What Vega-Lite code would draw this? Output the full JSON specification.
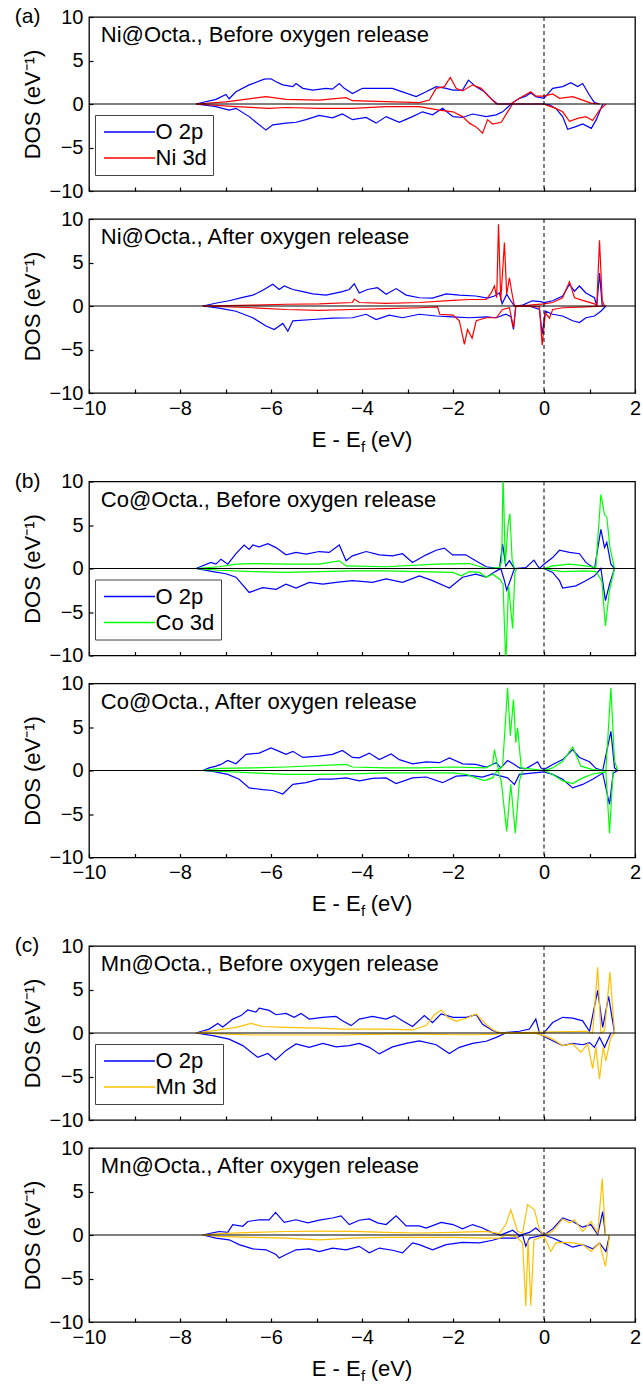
{
"$schema":"https://vega.github.io/schema/vega-lite/v6.json",
"background":"white",
"padding":{"left":14,"top":5,"right":9,"bottom":12},
"config":{"font":"Liberation Sans","view":{"stroke":"black","strokeWidth":1.3},
"axis":{"labelFont":"Liberation Sans","titleFont":"Liberation Sans","labelColor":"black","titleColor":"black","tickColor":"black","domain":false,"grid":false,"labelFontSize":20,"titleFontSize":22,"titleFontWeight":"normal","tickSize":-4,"tickWidth":1.2,"labelFlush":false,"labelOverlap":false},
"legend":{"orient":"none","legendX":6,"legendY":98,"title":null,"symbolType":"M-5,0H5","symbolSize":104,"symbolStrokeWidth":1.5,"labelFontSize":22,"labelFont":"Liberation Sans","labelColor":"black","strokeColor":"#444","fillColor":"white","padding":6,"rowPadding":4,"symbolOffset":17.5,"labelOffset":15},
"text":{"font":"Liberation Sans","color":"black"}},
"datasets":{
"a1":[
{"orb":"O 2p","spin":"up","E":-7.65,"DOS":0},{"orb":"O 2p","spin":"up","E":-7.21,"DOS":0.53},{"orb":"O 2p","spin":"up","E":-6.99,"DOS":1.1},{"orb":"O 2p","spin":"up","E":-6.92,"DOS":0.6},{"orb":"O 2p","spin":"up","E":-6.77,"DOS":1.4},{"orb":"O 2p","spin":"up","E":-6.48,"DOS":2.2},{"orb":"O 2p","spin":"up","E":-6.15,"DOS":2.85},{"orb":"O 2p","spin":"up","E":-6.0,"DOS":2.9},{"orb":"O 2p","spin":"up","E":-5.89,"DOS":2.55},{"orb":"O 2p","spin":"up","E":-5.74,"DOS":2.2},{"orb":"O 2p","spin":"up","E":-5.52,"DOS":2.0},{"orb":"O 2p","spin":"up","E":-5.45,"DOS":2.35},{"orb":"O 2p","spin":"up","E":-5.3,"DOS":1.8},{"orb":"O 2p","spin":"up","E":-5.08,"DOS":1.6},{"orb":"O 2p","spin":"up","E":-4.79,"DOS":1.8},{"orb":"O 2p","spin":"up","E":-4.65,"DOS":1.7},{"orb":"O 2p","spin":"up","E":-4.5,"DOS":2.35},{"orb":"O 2p","spin":"up","E":-4.39,"DOS":1.8},{"orb":"O 2p","spin":"up","E":-4.21,"DOS":1.2},{"orb":"O 2p","spin":"up","E":-3.99,"DOS":1.8},{"orb":"O 2p","spin":"up","E":-3.69,"DOS":1.8},{"orb":"O 2p","spin":"up","E":-3.33,"DOS":1.8},{"orb":"O 2p","spin":"up","E":-3.11,"DOS":1.4},{"orb":"O 2p","spin":"up","E":-2.81,"DOS":0.85},{"orb":"O 2p","spin":"up","E":-2.59,"DOS":1.4},{"orb":"O 2p","spin":"up","E":-2.37,"DOS":2.0},{"orb":"O 2p","spin":"up","E":-2.15,"DOS":1.8},{"orb":"O 2p","spin":"up","E":-2.0,"DOS":1.6},{"orb":"O 2p","spin":"up","E":-1.79,"DOS":1.6},{"orb":"O 2p","spin":"up","E":-1.66,"DOS":2.75},{"orb":"O 2p","spin":"up","E":-1.5,"DOS":2.0},{"orb":"O 2p","spin":"up","E":-1.31,"DOS":1.4},{"orb":"O 2p","spin":"up","E":-1.13,"DOS":0.45},{"orb":"O 2p","spin":"up","E":-1.02,"DOS":0},{"orb":"O 2p","spin":"up","E":-0.73,"DOS":0},{"orb":"O 2p","spin":"up","E":-0.54,"DOS":0.65},{"orb":"O 2p","spin":"up","E":-0.4,"DOS":0.9},{"orb":"O 2p","spin":"up","E":-0.29,"DOS":1.3},{"orb":"O 2p","spin":"up","E":-0.18,"DOS":0.85},{"orb":"O 2p","spin":"up","E":0.0,"DOS":0.65},{"orb":"O 2p","spin":"up","E":0.19,"DOS":1.8},{"orb":"O 2p","spin":"up","E":0.41,"DOS":2.0},{"orb":"O 2p","spin":"up","E":0.59,"DOS":2.45},{"orb":"O 2p","spin":"up","E":0.74,"DOS":2.0},{"orb":"O 2p","spin":"up","E":0.85,"DOS":2.35},{"orb":"O 2p","spin":"up","E":1.0,"DOS":1.0},{"orb":"O 2p","spin":"up","E":1.11,"DOS":0.15},{"orb":"O 2p","spin":"up","E":1.22,"DOS":0},
{"orb":"O 2p","spin":"dn","E":-7.65,"DOS":0},{"orb":"O 2p","spin":"dn","E":-7.21,"DOS":-0.3},{"orb":"O 2p","spin":"dn","E":-6.92,"DOS":-0.7},{"orb":"O 2p","spin":"dn","E":-6.77,"DOS":-0.5},{"orb":"O 2p","spin":"dn","E":-6.48,"DOS":-1.45},{"orb":"O 2p","spin":"dn","E":-6.33,"DOS":-2.1},{"orb":"O 2p","spin":"dn","E":-6.11,"DOS":-3.0},{"orb":"O 2p","spin":"dn","E":-5.96,"DOS":-2.4},{"orb":"O 2p","spin":"dn","E":-5.67,"DOS":-2.2},{"orb":"O 2p","spin":"dn","E":-5.45,"DOS":-2.1},{"orb":"O 2p","spin":"dn","E":-5.23,"DOS":-1.8},{"orb":"O 2p","spin":"dn","E":-4.94,"DOS":-1.3},{"orb":"O 2p","spin":"dn","E":-4.65,"DOS":-1.6},{"orb":"O 2p","spin":"dn","E":-4.43,"DOS":-1.15},{"orb":"O 2p","spin":"dn","E":-4.21,"DOS":-1.8},{"orb":"O 2p","spin":"dn","E":-3.91,"DOS":-1.55},{"orb":"O 2p","spin":"dn","E":-3.69,"DOS":-2.2},{"orb":"O 2p","spin":"dn","E":-3.47,"DOS":-1.45},{"orb":"O 2p","spin":"dn","E":-3.18,"DOS":-2.1},{"orb":"O 2p","spin":"dn","E":-2.89,"DOS":-1.45},{"orb":"O 2p","spin":"dn","E":-2.67,"DOS":-0.9},{"orb":"O 2p","spin":"dn","E":-2.45,"DOS":-1.25},{"orb":"O 2p","spin":"dn","E":-2.23,"DOS":-0.5},{"orb":"O 2p","spin":"dn","E":-2.0,"DOS":-1.45},{"orb":"O 2p","spin":"dn","E":-1.79,"DOS":-1.55},{"orb":"O 2p","spin":"dn","E":-1.57,"DOS":-1.15},{"orb":"O 2p","spin":"dn","E":-1.27,"DOS":-1.45},{"orb":"O 2p","spin":"dn","E":-1.05,"DOS":-1.25},{"orb":"O 2p","spin":"dn","E":-0.91,"DOS":-0.9},{"orb":"O 2p","spin":"dn","E":-0.72,"DOS":0},{"orb":"O 2p","spin":"dn","E":0.0,"DOS":0},{"orb":"O 2p","spin":"dn","E":0.12,"DOS":-0.1},{"orb":"O 2p","spin":"dn","E":0.26,"DOS":-0.5},{"orb":"O 2p","spin":"dn","E":0.41,"DOS":-1.45},{"orb":"O 2p","spin":"dn","E":0.52,"DOS":-2.9},{"orb":"O 2p","spin":"dn","E":0.7,"DOS":-2.6},{"orb":"O 2p","spin":"dn","E":0.85,"DOS":-2.3},{"orb":"O 2p","spin":"dn","E":1.04,"DOS":-2.8},{"orb":"O 2p","spin":"dn","E":1.15,"DOS":-1.8},{"orb":"O 2p","spin":"dn","E":1.29,"DOS":0},
{"orb":"Ni 3d","spin":"up","E":-7.65,"DOS":0},{"orb":"Ni 3d","spin":"up","E":-6.99,"DOS":0.25},{"orb":"Ni 3d","spin":"up","E":-6.4,"DOS":0.65},{"orb":"Ni 3d","spin":"up","E":-6.11,"DOS":0.85},{"orb":"Ni 3d","spin":"up","E":-5.67,"DOS":0.53},{"orb":"Ni 3d","spin":"up","E":-4.94,"DOS":0.45},{"orb":"Ni 3d","spin":"up","E":-4.35,"DOS":0.72},{"orb":"Ni 3d","spin":"up","E":-4.21,"DOS":0.38},{"orb":"Ni 3d","spin":"up","E":-3.47,"DOS":0.27},{"orb":"Ni 3d","spin":"up","E":-2.74,"DOS":0.15},{"orb":"Ni 3d","spin":"up","E":-2.52,"DOS":0.45},{"orb":"Ni 3d","spin":"up","E":-2.37,"DOS":1.8},{"orb":"Ni 3d","spin":"up","E":-2.19,"DOS":2.0},{"orb":"Ni 3d","spin":"up","E":-2.06,"DOS":3.05},{"orb":"Ni 3d","spin":"up","E":-1.93,"DOS":1.8},{"orb":"Ni 3d","spin":"up","E":-1.79,"DOS":1.5},{"orb":"Ni 3d","spin":"up","E":-1.57,"DOS":2.2},{"orb":"Ni 3d","spin":"up","E":-1.38,"DOS":1.8},{"orb":"Ni 3d","spin":"up","E":-1.24,"DOS":1.0},{"orb":"Ni 3d","spin":"up","E":-1.05,"DOS":0},{"orb":"Ni 3d","spin":"up","E":-0.73,"DOS":0},{"orb":"Ni 3d","spin":"up","E":-0.54,"DOS":0.65},{"orb":"Ni 3d","spin":"up","E":-0.29,"DOS":1.4},{"orb":"Ni 3d","spin":"up","E":-0.18,"DOS":0.9},{"orb":"Ni 3d","spin":"up","E":0.0,"DOS":0.9},{"orb":"Ni 3d","spin":"up","E":0.19,"DOS":1.15},{"orb":"Ni 3d","spin":"up","E":0.34,"DOS":0.65},{"orb":"Ni 3d","spin":"up","E":0.63,"DOS":0.85},{"orb":"Ni 3d","spin":"up","E":0.85,"DOS":0.45},{"orb":"Ni 3d","spin":"up","E":1.03,"DOS":0.1},{"orb":"Ni 3d","spin":"up","E":1.22,"DOS":0},
{"orb":"Ni 3d","spin":"dn","E":-7.65,"DOS":0},{"orb":"Ni 3d","spin":"dn","E":-6.77,"DOS":-0.3},{"orb":"Ni 3d","spin":"dn","E":-6.04,"DOS":-0.5},{"orb":"Ni 3d","spin":"dn","E":-5.67,"DOS":-0.4},{"orb":"Ni 3d","spin":"dn","E":-4.94,"DOS":-0.5},{"orb":"Ni 3d","spin":"dn","E":-4.21,"DOS":-0.5},{"orb":"Ni 3d","spin":"dn","E":-3.47,"DOS":-0.3},{"orb":"Ni 3d","spin":"dn","E":-2.74,"DOS":-0.3},{"orb":"Ni 3d","spin":"dn","E":-2.3,"DOS":-0.7},{"orb":"Ni 3d","spin":"dn","E":-2.0,"DOS":-0.9},{"orb":"Ni 3d","spin":"dn","E":-1.79,"DOS":-1.45},{"orb":"Ni 3d","spin":"dn","E":-1.64,"DOS":-2.2},{"orb":"Ni 3d","spin":"dn","E":-1.5,"DOS":-2.6},{"orb":"Ni 3d","spin":"dn","E":-1.35,"DOS":-3.35},{"orb":"Ni 3d","spin":"dn","E":-1.24,"DOS":-1.8},{"orb":"Ni 3d","spin":"dn","E":-1.13,"DOS":-2.3},{"orb":"Ni 3d","spin":"dn","E":-0.94,"DOS":-2.1},{"orb":"Ni 3d","spin":"dn","E":-0.8,"DOS":-0.9},{"orb":"Ni 3d","spin":"dn","E":-0.69,"DOS":0},{"orb":"Ni 3d","spin":"dn","E":0.0,"DOS":0},{"orb":"Ni 3d","spin":"dn","E":0.04,"DOS":-0.1},{"orb":"Ni 3d","spin":"dn","E":0.26,"DOS":-0.5},{"orb":"Ni 3d","spin":"dn","E":0.41,"DOS":-0.9},{"orb":"Ni 3d","spin":"dn","E":0.56,"DOS":-2.0},{"orb":"Ni 3d","spin":"dn","E":0.74,"DOS":-1.65},{"orb":"Ni 3d","spin":"dn","E":0.92,"DOS":-1.45},{"orb":"Ni 3d","spin":"dn","E":1.07,"DOS":-1.9},{"orb":"Ni 3d","spin":"dn","E":1.22,"DOS":-0.7},{"orb":"Ni 3d","spin":"dn","E":1.36,"DOS":0}
],
"a2":[
{"orb":"O 2p","spin":"up","E":-7.5,"DOS":0},{"orb":"O 2p","spin":"up","E":-7.14,"DOS":0.4},{"orb":"O 2p","spin":"up","E":-6.92,"DOS":0.6},{"orb":"O 2p","spin":"up","E":-6.62,"DOS":1.0},{"orb":"O 2p","spin":"up","E":-6.4,"DOS":1.25},{"orb":"O 2p","spin":"up","E":-6.18,"DOS":1.8},{"orb":"O 2p","spin":"up","E":-5.96,"DOS":2.5},{"orb":"O 2p","spin":"up","E":-5.82,"DOS":1.9},{"orb":"O 2p","spin":"up","E":-5.71,"DOS":2.3},{"orb":"O 2p","spin":"up","E":-5.52,"DOS":1.9},{"orb":"O 2p","spin":"up","E":-5.3,"DOS":1.65},{"orb":"O 2p","spin":"up","E":-5.08,"DOS":1.4},{"orb":"O 2p","spin":"up","E":-4.79,"DOS":1.25},{"orb":"O 2p","spin":"up","E":-4.43,"DOS":1.65},{"orb":"O 2p","spin":"up","E":-4.28,"DOS":1.9},{"orb":"O 2p","spin":"up","E":-4.17,"DOS":2.55},{"orb":"O 2p","spin":"up","E":-4.06,"DOS":1.5},{"orb":"O 2p","spin":"up","E":-3.88,"DOS":1.9},{"orb":"O 2p","spin":"up","E":-3.66,"DOS":2.1},{"orb":"O 2p","spin":"up","E":-3.47,"DOS":1.35},{"orb":"O 2p","spin":"up","E":-3.25,"DOS":2.0},{"orb":"O 2p","spin":"up","E":-3.03,"DOS":1.25},{"orb":"O 2p","spin":"up","E":-2.74,"DOS":0.95},{"orb":"O 2p","spin":"up","E":-2.45,"DOS":0.9},{"orb":"O 2p","spin":"up","E":-2.15,"DOS":1.4},{"orb":"O 2p","spin":"up","E":-1.86,"DOS":1.25},{"orb":"O 2p","spin":"up","E":-1.5,"DOS":1.15},{"orb":"O 2p","spin":"up","E":-1.24,"DOS":0.9},{"orb":"O 2p","spin":"up","E":-1.09,"DOS":1.15},{"orb":"O 2p","spin":"up","E":-0.98,"DOS":1.5},{"orb":"O 2p","spin":"up","E":-0.92,"DOS":0.25},{"orb":"O 2p","spin":"up","E":-0.82,"DOS":1.35},{"orb":"O 2p","spin":"up","E":-0.73,"DOS":0.6},{"orb":"O 2p","spin":"up","E":-0.65,"DOS":0},{"orb":"O 2p","spin":"up","E":-0.47,"DOS":0.1},{"orb":"O 2p","spin":"up","E":-0.26,"DOS":0.6},{"orb":"O 2p","spin":"up","E":-0.07,"DOS":0.5},{"orb":"O 2p","spin":"up","E":0.0,"DOS":0.4},{"orb":"O 2p","spin":"up","E":0.19,"DOS":0.6},{"orb":"O 2p","spin":"up","E":0.41,"DOS":1.15},{"orb":"O 2p","spin":"up","E":0.56,"DOS":2.5},{"orb":"O 2p","spin":"up","E":0.67,"DOS":1.7},{"orb":"O 2p","spin":"up","E":0.78,"DOS":2.3},{"orb":"O 2p","spin":"up","E":0.92,"DOS":1.5},{"orb":"O 2p","spin":"up","E":1.11,"DOS":0.95},{"orb":"O 2p","spin":"up","E":1.16,"DOS":0},{"orb":"O 2p","spin":"up","E":1.22,"DOS":3.8},{"orb":"O 2p","spin":"up","E":1.28,"DOS":0},
{"orb":"O 2p","spin":"dn","E":-7.5,"DOS":0},{"orb":"O 2p","spin":"dn","E":-7.14,"DOS":-0.25},{"orb":"O 2p","spin":"dn","E":-6.77,"DOS":-0.6},{"orb":"O 2p","spin":"dn","E":-6.4,"DOS":-1.35},{"orb":"O 2p","spin":"dn","E":-6.11,"DOS":-2.3},{"orb":"O 2p","spin":"dn","E":-5.93,"DOS":-2.7},{"orb":"O 2p","spin":"dn","E":-5.74,"DOS":-2.0},{"orb":"O 2p","spin":"dn","E":-5.63,"DOS":-2.9},{"orb":"O 2p","spin":"dn","E":-5.52,"DOS":-1.7},{"orb":"O 2p","spin":"dn","E":-5.08,"DOS":-1.55},{"orb":"O 2p","spin":"dn","E":-4.65,"DOS":-1.4},{"orb":"O 2p","spin":"dn","E":-4.21,"DOS":-1.35},{"orb":"O 2p","spin":"dn","E":-3.91,"DOS":-0.95},{"orb":"O 2p","spin":"dn","E":-3.69,"DOS":-1.55},{"orb":"O 2p","spin":"dn","E":-3.4,"DOS":-1.05},{"orb":"O 2p","spin":"dn","E":-3.11,"DOS":-1.35},{"orb":"O 2p","spin":"dn","E":-2.74,"DOS":-0.95},{"orb":"O 2p","spin":"dn","E":-2.37,"DOS":-1.15},{"orb":"O 2p","spin":"dn","E":-2.01,"DOS":-1.25},{"orb":"O 2p","spin":"dn","E":-1.64,"DOS":-1.35},{"orb":"O 2p","spin":"dn","E":-1.27,"DOS":-1.25},{"orb":"O 2p","spin":"dn","E":-1.05,"DOS":-1.35},{"orb":"O 2p","spin":"dn","E":-0.84,"DOS":-0.95},{"orb":"O 2p","spin":"dn","E":-0.73,"DOS":-1.2},{"orb":"O 2p","spin":"dn","E":-0.67,"DOS":-2.7},{"orb":"O 2p","spin":"dn","E":-0.62,"DOS":0},{"orb":"O 2p","spin":"dn","E":-0.32,"DOS":0},{"orb":"O 2p","spin":"dn","E":-0.1,"DOS":-0.4},{"orb":"O 2p","spin":"dn","E":-0.04,"DOS":-3.25},{"orb":"O 2p","spin":"dn","E":0.03,"DOS":-0.6},{"orb":"O 2p","spin":"dn","E":0.19,"DOS":-0.95},{"orb":"O 2p","spin":"dn","E":0.41,"DOS":-1.15},{"orb":"O 2p","spin":"dn","E":0.63,"DOS":-1.7},{"orb":"O 2p","spin":"dn","E":0.78,"DOS":-1.9},{"orb":"O 2p","spin":"dn","E":0.92,"DOS":-1.35},{"orb":"O 2p","spin":"dn","E":1.11,"DOS":-1.15},{"orb":"O 2p","spin":"dn","E":1.25,"DOS":-0.6},{"orb":"O 2p","spin":"dn","E":1.36,"DOS":0},
{"orb":"Ni 3d","spin":"up","E":-7.5,"DOS":0},{"orb":"Ni 3d","spin":"up","E":-6.4,"DOS":0.1},{"orb":"Ni 3d","spin":"up","E":-5.67,"DOS":0.2},{"orb":"Ni 3d","spin":"up","E":-4.94,"DOS":0.25},{"orb":"Ni 3d","spin":"up","E":-4.21,"DOS":0.4},{"orb":"Ni 3d","spin":"up","E":-4.17,"DOS":0.8},{"orb":"Ni 3d","spin":"up","E":-4.06,"DOS":0.4},{"orb":"Ni 3d","spin":"up","E":-3.47,"DOS":0.3},{"orb":"Ni 3d","spin":"up","E":-2.74,"DOS":0.4},{"orb":"Ni 3d","spin":"up","E":-2.0,"DOS":0.65},{"orb":"Ni 3d","spin":"up","E":-1.64,"DOS":0.75},{"orb":"Ni 3d","spin":"up","E":-1.27,"DOS":0.75},{"orb":"Ni 3d","spin":"up","E":-1.16,"DOS":1.5},{"orb":"Ni 3d","spin":"up","E":-1.09,"DOS":2.3},{"orb":"Ni 3d","spin":"up","E":-1.04,"DOS":0.95},{"orb":"Ni 3d","spin":"up","E":-1.0,"DOS":9.4},{"orb":"Ni 3d","spin":"up","E":-0.95,"DOS":0.6},{"orb":"Ni 3d","spin":"up","E":-0.87,"DOS":7.3},{"orb":"Ni 3d","spin":"up","E":-0.82,"DOS":1.35},{"orb":"Ni 3d","spin":"up","E":-0.76,"DOS":3.25},{"orb":"Ni 3d","spin":"up","E":-0.7,"DOS":1.35},{"orb":"Ni 3d","spin":"up","E":-0.65,"DOS":0},{"orb":"Ni 3d","spin":"up","E":-0.32,"DOS":0.1},{"orb":"Ni 3d","spin":"up","E":0.0,"DOS":0.25},{"orb":"Ni 3d","spin":"up","E":0.19,"DOS":0.4},{"orb":"Ni 3d","spin":"up","E":0.41,"DOS":0.95},{"orb":"Ni 3d","spin":"up","E":0.56,"DOS":2.8},{"orb":"Ni 3d","spin":"up","E":0.67,"DOS":0.95},{"orb":"Ni 3d","spin":"up","E":0.85,"DOS":0.65},{"orb":"Ni 3d","spin":"up","E":1.11,"DOS":0.25},{"orb":"Ni 3d","spin":"up","E":1.16,"DOS":0},{"orb":"Ni 3d","spin":"up","E":1.22,"DOS":7.55},{"orb":"Ni 3d","spin":"up","E":1.28,"DOS":0.6},{"orb":"Ni 3d","spin":"up","E":1.33,"DOS":0},
{"orb":"Ni 3d","spin":"dn","E":-7.5,"DOS":0},{"orb":"Ni 3d","spin":"dn","E":-6.4,"DOS":-0.2},{"orb":"Ni 3d","spin":"dn","E":-5.67,"DOS":-0.4},{"orb":"Ni 3d","spin":"dn","E":-4.94,"DOS":-0.5},{"orb":"Ni 3d","spin":"dn","E":-4.21,"DOS":-0.4},{"orb":"Ni 3d","spin":"dn","E":-3.47,"DOS":-0.3},{"orb":"Ni 3d","spin":"dn","E":-2.74,"DOS":-0.2},{"orb":"Ni 3d","spin":"dn","E":-2.34,"DOS":-0.1},{"orb":"Ni 3d","spin":"dn","E":-2.29,"DOS":-0.95},{"orb":"Ni 3d","spin":"dn","E":-2.0,"DOS":-1.05},{"orb":"Ni 3d","spin":"dn","E":-1.86,"DOS":-1.7},{"orb":"Ni 3d","spin":"dn","E":-1.75,"DOS":-4.4},{"orb":"Ni 3d","spin":"dn","E":-1.68,"DOS":-2.7},{"orb":"Ni 3d","spin":"dn","E":-1.58,"DOS":-3.7},{"orb":"Ni 3d","spin":"dn","E":-1.49,"DOS":-1.7},{"orb":"Ni 3d","spin":"dn","E":-1.27,"DOS":-1.35},{"orb":"Ni 3d","spin":"dn","E":-1.05,"DOS":-1.35},{"orb":"Ni 3d","spin":"dn","E":-0.91,"DOS":-0.4},{"orb":"Ni 3d","spin":"dn","E":-0.76,"DOS":-0.2},{"orb":"Ni 3d","spin":"dn","E":-0.67,"DOS":-2.5},{"orb":"Ni 3d","spin":"dn","E":-0.62,"DOS":0},{"orb":"Ni 3d","spin":"dn","E":-0.1,"DOS":-0.1},{"orb":"Ni 3d","spin":"dn","E":-0.04,"DOS":-4.5},{"orb":"Ni 3d","spin":"dn","E":0.03,"DOS":-0.8},{"orb":"Ni 3d","spin":"dn","E":0.12,"DOS":-1.4},{"orb":"Ni 3d","spin":"dn","E":0.19,"DOS":-0.4},{"orb":"Ni 3d","spin":"dn","E":0.41,"DOS":-0.2},{"orb":"Ni 3d","spin":"dn","E":0.92,"DOS":-0.1},{"orb":"Ni 3d","spin":"dn","E":1.36,"DOS":0}
],
"b1":[
{"orb":"O 2p","spin":"up","E":-7.65,"DOS":0},{"orb":"O 2p","spin":"up","E":-7.32,"DOS":0.7},{"orb":"O 2p","spin":"up","E":-7.21,"DOS":0.5},{"orb":"O 2p","spin":"up","E":-7.1,"DOS":1.07},{"orb":"O 2p","spin":"up","E":-6.95,"DOS":0.5},{"orb":"O 2p","spin":"up","E":-6.77,"DOS":1.7},{"orb":"O 2p","spin":"up","E":-6.59,"DOS":2.7},{"orb":"O 2p","spin":"up","E":-6.48,"DOS":2.2},{"orb":"O 2p","spin":"up","E":-6.4,"DOS":2.7},{"orb":"O 2p","spin":"up","E":-6.26,"DOS":2.5},{"orb":"O 2p","spin":"up","E":-6.07,"DOS":2.85},{"orb":"O 2p","spin":"up","E":-5.89,"DOS":2.4},{"orb":"O 2p","spin":"up","E":-5.67,"DOS":1.57},{"orb":"O 2p","spin":"up","E":-5.45,"DOS":1.85},{"orb":"O 2p","spin":"up","E":-5.23,"DOS":1.65},{"orb":"O 2p","spin":"up","E":-4.94,"DOS":1.95},{"orb":"O 2p","spin":"up","E":-4.72,"DOS":1.85},{"orb":"O 2p","spin":"up","E":-4.5,"DOS":2.7},{"orb":"O 2p","spin":"up","E":-4.35,"DOS":0.88},{"orb":"O 2p","spin":"up","E":-4.21,"DOS":1.45},{"orb":"O 2p","spin":"up","E":-3.91,"DOS":1.95},{"orb":"O 2p","spin":"up","E":-3.62,"DOS":1.57},{"orb":"O 2p","spin":"up","E":-3.33,"DOS":1.45},{"orb":"O 2p","spin":"up","E":-3.11,"DOS":1.7},{"orb":"O 2p","spin":"up","E":-2.89,"DOS":0.7},{"orb":"O 2p","spin":"up","E":-2.59,"DOS":1.57},{"orb":"O 2p","spin":"up","E":-2.37,"DOS":2.1},{"orb":"O 2p","spin":"up","E":-2.19,"DOS":2.35},{"orb":"O 2p","spin":"up","E":-2.01,"DOS":1.57},{"orb":"O 2p","spin":"up","E":-1.72,"DOS":1.57},{"orb":"O 2p","spin":"up","E":-1.5,"DOS":0.88},{"orb":"O 2p","spin":"up","E":-1.27,"DOS":0.2},{"orb":"O 2p","spin":"up","E":-0.98,"DOS":0},{"orb":"O 2p","spin":"up","E":-0.91,"DOS":2.8},{"orb":"O 2p","spin":"up","E":-0.84,"DOS":0.3},{"orb":"O 2p","spin":"up","E":-0.76,"DOS":0.9},{"orb":"O 2p","spin":"up","E":-0.65,"DOS":0},{"orb":"O 2p","spin":"up","E":-0.4,"DOS":0.1},{"orb":"O 2p","spin":"up","E":-0.22,"DOS":0.96},{"orb":"O 2p","spin":"up","E":-0.1,"DOS":0},{"orb":"O 2p","spin":"up","E":0.0,"DOS":0.5},{"orb":"O 2p","spin":"up","E":0.19,"DOS":1.26},{"orb":"O 2p","spin":"up","E":0.34,"DOS":2.1},{"orb":"O 2p","spin":"up","E":0.56,"DOS":1.85},{"orb":"O 2p","spin":"up","E":0.78,"DOS":1.7},{"orb":"O 2p","spin":"up","E":0.92,"DOS":0.7},{"orb":"O 2p","spin":"up","E":1.11,"DOS":0},{"orb":"O 2p","spin":"up","E":1.25,"DOS":4.5},{"orb":"O 2p","spin":"up","E":1.33,"DOS":2.4},{"orb":"O 2p","spin":"up","E":1.38,"DOS":3.0},{"orb":"O 2p","spin":"up","E":1.47,"DOS":0.5},{"orb":"O 2p","spin":"up","E":1.55,"DOS":0},
{"orb":"O 2p","spin":"dn","E":-7.65,"DOS":0},{"orb":"O 2p","spin":"dn","E":-7.28,"DOS":-0.35},{"orb":"O 2p","spin":"dn","E":-6.99,"DOS":-0.6},{"orb":"O 2p","spin":"dn","E":-6.77,"DOS":-1.0},{"orb":"O 2p","spin":"dn","E":-6.48,"DOS":-2.75},{"orb":"O 2p","spin":"dn","E":-6.18,"DOS":-2.2},{"orb":"O 2p","spin":"dn","E":-5.89,"DOS":-2.4},{"orb":"O 2p","spin":"dn","E":-5.67,"DOS":-1.8},{"orb":"O 2p","spin":"dn","E":-5.45,"DOS":-2.25},{"orb":"O 2p","spin":"dn","E":-5.16,"DOS":-1.6},{"orb":"O 2p","spin":"dn","E":-4.86,"DOS":-1.8},{"orb":"O 2p","spin":"dn","E":-4.57,"DOS":-1.6},{"orb":"O 2p","spin":"dn","E":-4.21,"DOS":-1.4},{"orb":"O 2p","spin":"dn","E":-3.77,"DOS":-1.6},{"orb":"O 2p","spin":"dn","E":-3.47,"DOS":-1.2},{"orb":"O 2p","spin":"dn","E":-3.11,"DOS":-1.6},{"orb":"O 2p","spin":"dn","E":-2.74,"DOS":-0.85},{"orb":"O 2p","spin":"dn","E":-2.45,"DOS":-1.4},{"orb":"O 2p","spin":"dn","E":-2.08,"DOS":-2.25},{"orb":"O 2p","spin":"dn","E":-1.79,"DOS":-1.0},{"orb":"O 2p","spin":"dn","E":-1.5,"DOS":-0.65},{"orb":"O 2p","spin":"dn","E":-1.27,"DOS":-1.0},{"orb":"O 2p","spin":"dn","E":-1.05,"DOS":-0.3},{"orb":"O 2p","spin":"dn","E":-0.95,"DOS":0},{"orb":"O 2p","spin":"dn","E":-0.87,"DOS":-1.4},{"orb":"O 2p","spin":"dn","E":-0.82,"DOS":-2.5},{"orb":"O 2p","spin":"dn","E":-0.73,"DOS":-1.2},{"orb":"O 2p","spin":"dn","E":-0.65,"DOS":0},{"orb":"O 2p","spin":"dn","E":0.0,"DOS":0},{"orb":"O 2p","spin":"dn","E":0.19,"DOS":-0.45},{"orb":"O 2p","spin":"dn","E":0.34,"DOS":-1.4},{"orb":"O 2p","spin":"dn","E":0.41,"DOS":-2.25},{"orb":"O 2p","spin":"dn","E":0.7,"DOS":-2.0},{"orb":"O 2p","spin":"dn","E":0.92,"DOS":-1.4},{"orb":"O 2p","spin":"dn","E":1.11,"DOS":-0.85},{"orb":"O 2p","spin":"dn","E":1.25,"DOS":0},{"orb":"O 2p","spin":"dn","E":1.35,"DOS":-3.7},{"orb":"O 2p","spin":"dn","E":1.44,"DOS":-1.8},{"orb":"O 2p","spin":"dn","E":1.55,"DOS":0},
{"orb":"Co 3d","spin":"up","E":-7.65,"DOS":0},{"orb":"Co 3d","spin":"up","E":-7.14,"DOS":0.2},{"orb":"Co 3d","spin":"up","E":-6.77,"DOS":0.5},{"orb":"Co 3d","spin":"up","E":-6.4,"DOS":0.57},{"orb":"Co 3d","spin":"up","E":-5.67,"DOS":0.5},{"orb":"Co 3d","spin":"up","E":-4.94,"DOS":0.5},{"orb":"Co 3d","spin":"up","E":-4.5,"DOS":0.88},{"orb":"Co 3d","spin":"up","E":-4.35,"DOS":0.3},{"orb":"Co 3d","spin":"up","E":-3.47,"DOS":0.2},{"orb":"Co 3d","spin":"up","E":-2.37,"DOS":0.5},{"orb":"Co 3d","spin":"up","E":-1.64,"DOS":0.57},{"orb":"Co 3d","spin":"up","E":-1.27,"DOS":0},{"orb":"Co 3d","spin":"up","E":-0.98,"DOS":0.1},{"orb":"Co 3d","spin":"up","E":-0.93,"DOS":0.8},{"orb":"Co 3d","spin":"up","E":-0.9,"DOS":11},{"orb":"Co 3d","spin":"up","E":-0.85,"DOS":0.5},{"orb":"Co 3d","spin":"up","E":-0.79,"DOS":5.0},{"orb":"Co 3d","spin":"up","E":-0.75,"DOS":6.3},{"orb":"Co 3d","spin":"up","E":-0.7,"DOS":1.0},{"orb":"Co 3d","spin":"up","E":-0.65,"DOS":0},{"orb":"Co 3d","spin":"up","E":0.0,"DOS":0},{"orb":"Co 3d","spin":"up","E":0.19,"DOS":0.3},{"orb":"Co 3d","spin":"up","E":0.56,"DOS":0.5},{"orb":"Co 3d","spin":"up","E":0.92,"DOS":0.3},{"orb":"Co 3d","spin":"up","E":1.14,"DOS":0.1},{"orb":"Co 3d","spin":"up","E":1.25,"DOS":8.5},{"orb":"Co 3d","spin":"up","E":1.33,"DOS":6.2},{"orb":"Co 3d","spin":"up","E":1.38,"DOS":5.9},{"orb":"Co 3d","spin":"up","E":1.45,"DOS":2.4},{"orb":"Co 3d","spin":"up","E":1.55,"DOS":0},
{"orb":"Co 3d","spin":"dn","E":-7.65,"DOS":0},{"orb":"Co 3d","spin":"dn","E":-7.14,"DOS":-0.2},{"orb":"Co 3d","spin":"dn","E":-6.4,"DOS":-0.35},{"orb":"Co 3d","spin":"dn","E":-5.67,"DOS":-0.45},{"orb":"Co 3d","spin":"dn","E":-4.94,"DOS":-0.35},{"orb":"Co 3d","spin":"dn","E":-4.21,"DOS":-0.27},{"orb":"Co 3d","spin":"dn","E":-3.47,"DOS":-0.27},{"orb":"Co 3d","spin":"dn","E":-2.74,"DOS":-0.35},{"orb":"Co 3d","spin":"dn","E":-2.0,"DOS":-0.45},{"orb":"Co 3d","spin":"dn","E":-1.82,"DOS":-0.85},{"orb":"Co 3d","spin":"dn","E":-1.64,"DOS":-0.35},{"orb":"Co 3d","spin":"dn","E":-1.42,"DOS":-0.45},{"orb":"Co 3d","spin":"dn","E":-1.27,"DOS":-1.0},{"orb":"Co 3d","spin":"dn","E":-1.13,"DOS":-0.65},{"orb":"Co 3d","spin":"dn","E":-0.98,"DOS":-1.2},{"orb":"Co 3d","spin":"dn","E":-0.9,"DOS":-1.8},{"orb":"Co 3d","spin":"dn","E":-0.84,"DOS":-11},{"orb":"Co 3d","spin":"dn","E":-0.78,"DOS":-2.0},{"orb":"Co 3d","spin":"dn","E":-0.69,"DOS":-6.9},{"orb":"Co 3d","spin":"dn","E":-0.64,"DOS":-0.5},{"orb":"Co 3d","spin":"dn","E":-0.6,"DOS":0},{"orb":"Co 3d","spin":"dn","E":0.0,"DOS":0},{"orb":"Co 3d","spin":"dn","E":0.19,"DOS":-0.2},{"orb":"Co 3d","spin":"dn","E":0.41,"DOS":-0.35},{"orb":"Co 3d","spin":"dn","E":0.92,"DOS":-0.27},{"orb":"Co 3d","spin":"dn","E":1.14,"DOS":-0.35},{"orb":"Co 3d","spin":"dn","E":1.27,"DOS":-1.4},{"orb":"Co 3d","spin":"dn","E":1.35,"DOS":-6.6},{"orb":"Co 3d","spin":"dn","E":1.44,"DOS":-2.5},{"orb":"Co 3d","spin":"dn","E":1.55,"DOS":0}
],
"b2":[
{"orb":"O 2p","spin":"up","E":-7.5,"DOS":0},{"orb":"O 2p","spin":"up","E":-7.36,"DOS":0.3},{"orb":"O 2p","spin":"up","E":-7.21,"DOS":0.5},{"orb":"O 2p","spin":"up","E":-7.1,"DOS":0.7},{"orb":"O 2p","spin":"up","E":-6.95,"DOS":1.15},{"orb":"O 2p","spin":"up","E":-6.77,"DOS":0.77},{"orb":"O 2p","spin":"up","E":-6.55,"DOS":1.85},{"orb":"O 2p","spin":"up","E":-6.26,"DOS":2.0},{"orb":"O 2p","spin":"up","E":-6.0,"DOS":2.6},{"orb":"O 2p","spin":"up","E":-5.82,"DOS":2.2},{"orb":"O 2p","spin":"up","E":-5.67,"DOS":1.85},{"orb":"O 2p","spin":"up","E":-5.52,"DOS":2.2},{"orb":"O 2p","spin":"up","E":-5.3,"DOS":1.5},{"orb":"O 2p","spin":"up","E":-4.94,"DOS":1.65},{"orb":"O 2p","spin":"up","E":-4.65,"DOS":1.85},{"orb":"O 2p","spin":"up","E":-4.43,"DOS":2.3},{"orb":"O 2p","spin":"up","E":-4.21,"DOS":1.5},{"orb":"O 2p","spin":"up","E":-4.06,"DOS":1.45},{"orb":"O 2p","spin":"up","E":-3.84,"DOS":2.0},{"orb":"O 2p","spin":"up","E":-3.62,"DOS":1.25},{"orb":"O 2p","spin":"up","E":-3.36,"DOS":1.9},{"orb":"O 2p","spin":"up","E":-3.18,"DOS":1.25},{"orb":"O 2p","spin":"up","E":-2.89,"DOS":0.77},{"orb":"O 2p","spin":"up","E":-2.59,"DOS":1.0},{"orb":"O 2p","spin":"up","E":-2.3,"DOS":0.9},{"orb":"O 2p","spin":"up","E":-2.08,"DOS":1.45},{"orb":"O 2p","spin":"up","E":-1.79,"DOS":0.77},{"orb":"O 2p","spin":"up","E":-1.5,"DOS":0.7},{"orb":"O 2p","spin":"up","E":-1.27,"DOS":0.38},{"orb":"O 2p","spin":"up","E":-1.05,"DOS":0.9},{"orb":"O 2p","spin":"up","E":-0.95,"DOS":0.3},{"orb":"O 2p","spin":"up","E":-0.8,"DOS":1.15},{"orb":"O 2p","spin":"up","E":-0.65,"DOS":0.7},{"orb":"O 2p","spin":"up","E":-0.54,"DOS":0.3},{"orb":"O 2p","spin":"up","E":-0.4,"DOS":0.2},{"orb":"O 2p","spin":"up","E":-0.14,"DOS":1.0},{"orb":"O 2p","spin":"up","E":-0.07,"DOS":0.3},{"orb":"O 2p","spin":"up","E":0.0,"DOS":0.1},{"orb":"O 2p","spin":"up","E":0.19,"DOS":0.7},{"orb":"O 2p","spin":"up","E":0.41,"DOS":1.25},{"orb":"O 2p","spin":"up","E":0.63,"DOS":2.4},{"orb":"O 2p","spin":"up","E":0.78,"DOS":1.5},{"orb":"O 2p","spin":"up","E":1.0,"DOS":1.0},{"orb":"O 2p","spin":"up","E":1.14,"DOS":0.25},{"orb":"O 2p","spin":"up","E":1.29,"DOS":0},{"orb":"O 2p","spin":"up","E":1.47,"DOS":4.5},{"orb":"O 2p","spin":"up","E":1.55,"DOS":0.3},{"orb":"O 2p","spin":"up","E":1.62,"DOS":0},
{"orb":"O 2p","spin":"dn","E":-7.5,"DOS":0},{"orb":"O 2p","spin":"dn","E":-7.28,"DOS":-0.1},{"orb":"O 2p","spin":"dn","E":-6.95,"DOS":-0.45},{"orb":"O 2p","spin":"dn","E":-6.7,"DOS":-1.0},{"orb":"O 2p","spin":"dn","E":-6.48,"DOS":-2.0},{"orb":"O 2p","spin":"dn","E":-6.18,"DOS":-2.2},{"orb":"O 2p","spin":"dn","E":-5.96,"DOS":-2.3},{"orb":"O 2p","spin":"dn","E":-5.74,"DOS":-2.7},{"orb":"O 2p","spin":"dn","E":-5.52,"DOS":-1.6},{"orb":"O 2p","spin":"dn","E":-5.23,"DOS":-1.4},{"orb":"O 2p","spin":"dn","E":-4.94,"DOS":-1.0},{"orb":"O 2p","spin":"dn","E":-4.65,"DOS":-1.0},{"orb":"O 2p","spin":"dn","E":-4.35,"DOS":-0.85},{"orb":"O 2p","spin":"dn","E":-4.06,"DOS":-1.2},{"orb":"O 2p","spin":"dn","E":-3.77,"DOS":-0.9},{"orb":"O 2p","spin":"dn","E":-3.47,"DOS":-0.85},{"orb":"O 2p","spin":"dn","E":-3.25,"DOS":-1.5},{"orb":"O 2p","spin":"dn","E":-2.89,"DOS":-0.85},{"orb":"O 2p","spin":"dn","E":-2.59,"DOS":-0.75},{"orb":"O 2p","spin":"dn","E":-2.23,"DOS":-1.4},{"orb":"O 2p","spin":"dn","E":-1.93,"DOS":-0.65},{"orb":"O 2p","spin":"dn","E":-1.64,"DOS":-0.55},{"orb":"O 2p","spin":"dn","E":-1.35,"DOS":-0.75},{"orb":"O 2p","spin":"dn","E":-1.13,"DOS":-0.4},{"orb":"O 2p","spin":"dn","E":-0.8,"DOS":-0.85},{"orb":"O 2p","spin":"dn","E":-0.65,"DOS":-1.6},{"orb":"O 2p","spin":"dn","E":-0.54,"DOS":-0.45},{"orb":"O 2p","spin":"dn","E":0.0,"DOS":-0.15},{"orb":"O 2p","spin":"dn","E":0.19,"DOS":-0.45},{"orb":"O 2p","spin":"dn","E":0.41,"DOS":-1.0},{"orb":"O 2p","spin":"dn","E":0.63,"DOS":-2.0},{"orb":"O 2p","spin":"dn","E":0.85,"DOS":-1.6},{"orb":"O 2p","spin":"dn","E":1.07,"DOS":-1.0},{"orb":"O 2p","spin":"dn","E":1.29,"DOS":-0.3},{"orb":"O 2p","spin":"dn","E":1.44,"DOS":-3.9},{"orb":"O 2p","spin":"dn","E":1.52,"DOS":-0.3},{"orb":"O 2p","spin":"dn","E":1.62,"DOS":0},
{"orb":"Co 3d","spin":"up","E":-7.5,"DOS":0},{"orb":"Co 3d","spin":"up","E":-7.14,"DOS":0.25},{"orb":"Co 3d","spin":"up","E":-6.4,"DOS":0.3},{"orb":"Co 3d","spin":"up","E":-5.67,"DOS":0.4},{"orb":"Co 3d","spin":"up","E":-4.35,"DOS":0.7},{"orb":"Co 3d","spin":"up","E":-4.21,"DOS":0.4},{"orb":"Co 3d","spin":"up","E":-3.47,"DOS":0.3},{"orb":"Co 3d","spin":"up","E":-2.74,"DOS":0.3},{"orb":"Co 3d","spin":"up","E":-2.0,"DOS":0.4},{"orb":"Co 3d","spin":"up","E":-1.27,"DOS":0.3},{"orb":"Co 3d","spin":"up","E":-1.13,"DOS":0.7},{"orb":"Co 3d","spin":"up","E":-1.09,"DOS":2.4},{"orb":"Co 3d","spin":"up","E":-1.0,"DOS":0.1},{"orb":"Co 3d","spin":"up","E":-0.91,"DOS":0.5},{"orb":"Co 3d","spin":"up","E":-0.8,"DOS":9.5},{"orb":"Co 3d","spin":"up","E":-0.74,"DOS":4.0},{"orb":"Co 3d","spin":"up","E":-0.67,"DOS":8.15},{"orb":"Co 3d","spin":"up","E":-0.62,"DOS":3.2},{"orb":"Co 3d","spin":"up","E":-0.58,"DOS":4.9},{"orb":"Co 3d","spin":"up","E":-0.5,"DOS":0.3},{"orb":"Co 3d","spin":"up","E":0.0,"DOS":0},{"orb":"Co 3d","spin":"up","E":0.19,"DOS":0.3},{"orb":"Co 3d","spin":"up","E":0.41,"DOS":1.05},{"orb":"Co 3d","spin":"up","E":0.63,"DOS":2.7},{"orb":"Co 3d","spin":"up","E":0.81,"DOS":0.5},{"orb":"Co 3d","spin":"up","E":1.07,"DOS":0.1},{"orb":"Co 3d","spin":"up","E":1.36,"DOS":0},{"orb":"Co 3d","spin":"up","E":1.47,"DOS":9.5},{"orb":"Co 3d","spin":"up","E":1.55,"DOS":1.1},{"orb":"Co 3d","spin":"up","E":1.62,"DOS":0},
{"orb":"Co 3d","spin":"dn","E":-7.5,"DOS":0},{"orb":"Co 3d","spin":"dn","E":-6.4,"DOS":-0.27},{"orb":"Co 3d","spin":"dn","E":-5.67,"DOS":-0.45},{"orb":"Co 3d","spin":"dn","E":-4.94,"DOS":-0.45},{"orb":"Co 3d","spin":"dn","E":-4.21,"DOS":-0.38},{"orb":"Co 3d","spin":"dn","E":-3.47,"DOS":-0.27},{"orb":"Co 3d","spin":"dn","E":-2.74,"DOS":-0.27},{"orb":"Co 3d","spin":"dn","E":-2.0,"DOS":-0.27},{"orb":"Co 3d","spin":"dn","E":-1.71,"DOS":-0.45},{"orb":"Co 3d","spin":"dn","E":-1.5,"DOS":-0.85},{"orb":"Co 3d","spin":"dn","E":-1.31,"DOS":-1.15},{"orb":"Co 3d","spin":"dn","E":-1.13,"DOS":-0.85},{"orb":"Co 3d","spin":"dn","E":-1.02,"DOS":0.05},{"orb":"Co 3d","spin":"dn","E":-0.94,"DOS":-1.2},{"orb":"Co 3d","spin":"dn","E":-0.82,"DOS":-7.0},{"orb":"Co 3d","spin":"dn","E":-0.73,"DOS":-1.6},{"orb":"Co 3d","spin":"dn","E":-0.63,"DOS":-7.2},{"orb":"Co 3d","spin":"dn","E":-0.54,"DOS":-1.2},{"orb":"Co 3d","spin":"dn","E":-0.47,"DOS":0},{"orb":"Co 3d","spin":"dn","E":0.0,"DOS":0},{"orb":"Co 3d","spin":"dn","E":0.19,"DOS":-0.45},{"orb":"Co 3d","spin":"dn","E":0.41,"DOS":-1.2},{"orb":"Co 3d","spin":"dn","E":0.63,"DOS":-1.5},{"orb":"Co 3d","spin":"dn","E":0.85,"DOS":-0.85},{"orb":"Co 3d","spin":"dn","E":1.07,"DOS":-0.4},{"orb":"Co 3d","spin":"dn","E":1.36,"DOS":-0.15},{"orb":"Co 3d","spin":"dn","E":1.44,"DOS":-7.2},{"orb":"Co 3d","spin":"dn","E":1.52,"DOS":0},{"orb":"Co 3d","spin":"dn","E":1.62,"DOS":0}
],
"c1":[
{"orb":"O 2p","spin":"up","E":-7.65,"DOS":0},{"orb":"O 2p","spin":"up","E":-7.36,"DOS":0.45},{"orb":"O 2p","spin":"up","E":-7.17,"DOS":1.1},{"orb":"O 2p","spin":"up","E":-7.06,"DOS":0.7},{"orb":"O 2p","spin":"up","E":-6.84,"DOS":1.6},{"orb":"O 2p","spin":"up","E":-6.66,"DOS":2.0},{"orb":"O 2p","spin":"up","E":-6.51,"DOS":2.65},{"orb":"O 2p","spin":"up","E":-6.33,"DOS":2.4},{"orb":"O 2p","spin":"up","E":-6.26,"DOS":2.85},{"orb":"O 2p","spin":"up","E":-6.04,"DOS":2.6},{"orb":"O 2p","spin":"up","E":-5.89,"DOS":2.1},{"orb":"O 2p","spin":"up","E":-5.67,"DOS":2.25},{"orb":"O 2p","spin":"up","E":-5.49,"DOS":1.8},{"orb":"O 2p","spin":"up","E":-5.34,"DOS":2.25},{"orb":"O 2p","spin":"up","E":-5.16,"DOS":1.6},{"orb":"O 2p","spin":"up","E":-4.86,"DOS":1.8},{"orb":"O 2p","spin":"up","E":-4.57,"DOS":1.9},{"orb":"O 2p","spin":"up","E":-4.43,"DOS":1.4},{"orb":"O 2p","spin":"up","E":-4.24,"DOS":0.85},{"orb":"O 2p","spin":"up","E":-4.06,"DOS":1.6},{"orb":"O 2p","spin":"up","E":-3.77,"DOS":1.9},{"orb":"O 2p","spin":"up","E":-3.47,"DOS":1.6},{"orb":"O 2p","spin":"up","E":-3.29,"DOS":2.0},{"orb":"O 2p","spin":"up","E":-3.11,"DOS":1.4},{"orb":"O 2p","spin":"up","E":-2.89,"DOS":0.75},{"orb":"O 2p","spin":"up","E":-2.63,"DOS":2.0},{"orb":"O 2p","spin":"up","E":-2.45,"DOS":1.2},{"orb":"O 2p","spin":"up","E":-2.26,"DOS":2.2},{"orb":"O 2p","spin":"up","E":-2.0,"DOS":1.8},{"orb":"O 2p","spin":"up","E":-1.71,"DOS":1.8},{"orb":"O 2p","spin":"up","E":-1.49,"DOS":2.1},{"orb":"O 2p","spin":"up","E":-1.35,"DOS":1.0},{"orb":"O 2p","spin":"up","E":-1.13,"DOS":0.3},{"orb":"O 2p","spin":"up","E":-0.98,"DOS":0},{"orb":"O 2p","spin":"up","E":-0.54,"DOS":0.2},{"orb":"O 2p","spin":"up","E":-0.32,"DOS":0.45},{"orb":"O 2p","spin":"up","E":-0.18,"DOS":1.6},{"orb":"O 2p","spin":"up","E":-0.1,"DOS":0},{"orb":"O 2p","spin":"up","E":0.0,"DOS":0},{"orb":"O 2p","spin":"up","E":0.19,"DOS":1.2},{"orb":"O 2p","spin":"up","E":0.41,"DOS":1.8},{"orb":"O 2p","spin":"up","E":0.63,"DOS":1.7},{"orb":"O 2p","spin":"up","E":0.85,"DOS":1.4},{"orb":"O 2p","spin":"up","E":1.0,"DOS":0.2},{"orb":"O 2p","spin":"up","E":1.18,"DOS":4.9},{"orb":"O 2p","spin":"up","E":1.29,"DOS":0.65},{"orb":"O 2p","spin":"up","E":1.42,"DOS":4.2},{"orb":"O 2p","spin":"up","E":1.55,"DOS":0},
{"orb":"O 2p","spin":"dn","E":-7.65,"DOS":0},{"orb":"O 2p","spin":"dn","E":-7.28,"DOS":-0.3},{"orb":"O 2p","spin":"dn","E":-6.92,"DOS":-0.7},{"orb":"O 2p","spin":"dn","E":-6.62,"DOS":-1.45},{"orb":"O 2p","spin":"dn","E":-6.29,"DOS":-2.8},{"orb":"O 2p","spin":"dn","E":-6.07,"DOS":-2.35},{"orb":"O 2p","spin":"dn","E":-5.9,"DOS":-3.1},{"orb":"O 2p","spin":"dn","E":-5.67,"DOS":-2.0},{"orb":"O 2p","spin":"dn","E":-5.45,"DOS":-1.25},{"orb":"O 2p","spin":"dn","E":-5.16,"DOS":-1.65},{"orb":"O 2p","spin":"dn","E":-4.86,"DOS":-1.2},{"orb":"O 2p","spin":"dn","E":-4.57,"DOS":-1.6},{"orb":"O 2p","spin":"dn","E":-4.28,"DOS":-1.45},{"orb":"O 2p","spin":"dn","E":-4.06,"DOS":-1.2},{"orb":"O 2p","spin":"dn","E":-3.84,"DOS":-1.65},{"orb":"O 2p","spin":"dn","E":-3.62,"DOS":-2.4},{"orb":"O 2p","spin":"dn","E":-3.33,"DOS":-1.6},{"orb":"O 2p","spin":"dn","E":-3.03,"DOS":-1.2},{"orb":"O 2p","spin":"dn","E":-2.74,"DOS":-0.9},{"orb":"O 2p","spin":"dn","E":-2.37,"DOS":-1.35},{"orb":"O 2p","spin":"dn","E":-2.08,"DOS":-2.35},{"orb":"O 2p","spin":"dn","E":-1.86,"DOS":-1.65},{"orb":"O 2p","spin":"dn","E":-1.57,"DOS":-1.2},{"orb":"O 2p","spin":"dn","E":-1.27,"DOS":-0.95},{"orb":"O 2p","spin":"dn","E":-1.05,"DOS":-0.5},{"orb":"O 2p","spin":"dn","E":-0.84,"DOS":0},{"orb":"O 2p","spin":"dn","E":-0.18,"DOS":0},{"orb":"O 2p","spin":"dn","E":-0.07,"DOS":-0.2},{"orb":"O 2p","spin":"dn","E":0.19,"DOS":-0.9},{"orb":"O 2p","spin":"dn","E":0.41,"DOS":-1.45},{"orb":"O 2p","spin":"dn","E":0.63,"DOS":-1.2},{"orb":"O 2p","spin":"dn","E":0.85,"DOS":-1.35},{"orb":"O 2p","spin":"dn","E":1.0,"DOS":-1.1},{"orb":"O 2p","spin":"dn","E":1.11,"DOS":-1.65},{"orb":"O 2p","spin":"dn","E":1.22,"DOS":-0.5},{"orb":"O 2p","spin":"dn","E":1.33,"DOS":-1.65},{"orb":"O 2p","spin":"dn","E":1.47,"DOS":0},
{"orb":"Mn 3d","spin":"up","E":-7.65,"DOS":0},{"orb":"Mn 3d","spin":"up","E":-7.14,"DOS":0.35},{"orb":"Mn 3d","spin":"up","E":-6.77,"DOS":0.65},{"orb":"Mn 3d","spin":"up","E":-6.44,"DOS":1.1},{"orb":"Mn 3d","spin":"up","E":-6.18,"DOS":0.75},{"orb":"Mn 3d","spin":"up","E":-5.67,"DOS":0.65},{"orb":"Mn 3d","spin":"up","E":-4.94,"DOS":0.57},{"orb":"Mn 3d","spin":"up","E":-4.43,"DOS":0.45},{"orb":"Mn 3d","spin":"up","E":-3.84,"DOS":0.45},{"orb":"Mn 3d","spin":"up","E":-3.47,"DOS":0.45},{"orb":"Mn 3d","spin":"up","E":-2.89,"DOS":0.35},{"orb":"Mn 3d","spin":"up","E":-2.59,"DOS":0.85},{"orb":"Mn 3d","spin":"up","E":-2.41,"DOS":2.1},{"orb":"Mn 3d","spin":"up","E":-2.26,"DOS":2.65},{"orb":"Mn 3d","spin":"up","E":-2.12,"DOS":1.8},{"orb":"Mn 3d","spin":"up","E":-1.93,"DOS":1.35},{"orb":"Mn 3d","spin":"up","E":-1.71,"DOS":1.7},{"orb":"Mn 3d","spin":"up","E":-1.49,"DOS":2.2},{"orb":"Mn 3d","spin":"up","E":-1.42,"DOS":1.8},{"orb":"Mn 3d","spin":"up","E":-1.27,"DOS":0.95},{"orb":"Mn 3d","spin":"up","E":-1.09,"DOS":0.25},{"orb":"Mn 3d","spin":"up","E":-0.94,"DOS":0},{"orb":"Mn 3d","spin":"up","E":0.0,"DOS":0.1},{"orb":"Mn 3d","spin":"up","E":0.92,"DOS":0.2},{"orb":"Mn 3d","spin":"up","E":1.07,"DOS":0},{"orb":"Mn 3d","spin":"up","E":1.18,"DOS":7.55},{"orb":"Mn 3d","spin":"up","E":1.25,"DOS":0},{"orb":"Mn 3d","spin":"up","E":1.33,"DOS":0.25},{"orb":"Mn 3d","spin":"up","E":1.45,"DOS":7.0},{"orb":"Mn 3d","spin":"up","E":1.55,"DOS":0},
{"orb":"Mn 3d","spin":"dn","E":-7.65,"DOS":0},{"orb":"Mn 3d","spin":"dn","E":-7.14,"DOS":-0.1},{"orb":"Mn 3d","spin":"dn","E":-6.4,"DOS":-0.23},{"orb":"Mn 3d","spin":"dn","E":-5.67,"DOS":-0.23},{"orb":"Mn 3d","spin":"dn","E":-4.57,"DOS":-0.23},{"orb":"Mn 3d","spin":"dn","E":-3.47,"DOS":-0.12},{"orb":"Mn 3d","spin":"dn","E":-2.74,"DOS":-0.12},{"orb":"Mn 3d","spin":"dn","E":-2.0,"DOS":-0.2},{"orb":"Mn 3d","spin":"dn","E":-1.5,"DOS":-0.2},{"orb":"Mn 3d","spin":"dn","E":-1.05,"DOS":-0.12},{"orb":"Mn 3d","spin":"dn","E":-0.9,"DOS":0},{"orb":"Mn 3d","spin":"dn","E":-0.18,"DOS":-0.05},{"orb":"Mn 3d","spin":"dn","E":0.0,"DOS":-0.3},{"orb":"Mn 3d","spin":"dn","E":0.19,"DOS":-0.7},{"orb":"Mn 3d","spin":"dn","E":0.41,"DOS":-1.45},{"orb":"Mn 3d","spin":"dn","E":0.63,"DOS":-1.25},{"orb":"Mn 3d","spin":"dn","E":0.81,"DOS":-2.2},{"orb":"Mn 3d","spin":"dn","E":0.96,"DOS":-1.25},{"orb":"Mn 3d","spin":"dn","E":1.07,"DOS":-4.1},{"orb":"Mn 3d","spin":"dn","E":1.14,"DOS":-1.65},{"orb":"Mn 3d","spin":"dn","E":1.22,"DOS":-5.3},{"orb":"Mn 3d","spin":"dn","E":1.3,"DOS":-1.65},{"orb":"Mn 3d","spin":"dn","E":1.36,"DOS":-3.2},{"orb":"Mn 3d","spin":"dn","E":1.47,"DOS":-0.5},{"orb":"Mn 3d","spin":"dn","E":1.55,"DOS":0}
],
"c2":[
{"orb":"O 2p","spin":"up","E":-7.5,"DOS":0},{"orb":"O 2p","spin":"up","E":-7.28,"DOS":0.25},{"orb":"O 2p","spin":"up","E":-7.14,"DOS":0.4},{"orb":"O 2p","spin":"up","E":-6.95,"DOS":0.3},{"orb":"O 2p","spin":"up","E":-6.84,"DOS":1.2},{"orb":"O 2p","spin":"up","E":-6.62,"DOS":1.0},{"orb":"O 2p","spin":"up","E":-6.51,"DOS":1.55},{"orb":"O 2p","spin":"up","E":-6.26,"DOS":1.75},{"orb":"O 2p","spin":"up","E":-6.04,"DOS":1.75},{"orb":"O 2p","spin":"up","E":-5.9,"DOS":2.6},{"orb":"O 2p","spin":"up","E":-5.71,"DOS":1.45},{"orb":"O 2p","spin":"up","E":-5.45,"DOS":1.75},{"orb":"O 2p","spin":"up","E":-5.19,"DOS":1.4},{"orb":"O 2p","spin":"up","E":-4.94,"DOS":1.7},{"orb":"O 2p","spin":"up","E":-4.65,"DOS":1.95},{"orb":"O 2p","spin":"up","E":-4.46,"DOS":2.2},{"orb":"O 2p","spin":"up","E":-4.28,"DOS":1.2},{"orb":"O 2p","spin":"up","E":-4.06,"DOS":1.7},{"orb":"O 2p","spin":"up","E":-3.84,"DOS":1.85},{"orb":"O 2p","spin":"up","E":-3.66,"DOS":1.4},{"orb":"O 2p","spin":"up","E":-3.47,"DOS":1.2},{"orb":"O 2p","spin":"up","E":-3.25,"DOS":2.2},{"orb":"O 2p","spin":"up","E":-3.03,"DOS":1.05},{"orb":"O 2p","spin":"up","E":-2.74,"DOS":1.05},{"orb":"O 2p","spin":"up","E":-2.59,"DOS":0.8},{"orb":"O 2p","spin":"up","E":-2.26,"DOS":1.45},{"orb":"O 2p","spin":"up","E":-2.0,"DOS":1.2},{"orb":"O 2p","spin":"up","E":-1.79,"DOS":0.7},{"orb":"O 2p","spin":"up","E":-1.57,"DOS":1.2},{"orb":"O 2p","spin":"up","E":-1.35,"DOS":0.8},{"orb":"O 2p","spin":"up","E":-1.13,"DOS":0.25},{"orb":"O 2p","spin":"up","E":-0.95,"DOS":0},{"orb":"O 2p","spin":"up","E":-0.69,"DOS":0.55},{"orb":"O 2p","spin":"up","E":-0.54,"DOS":-0.05},{"orb":"O 2p","spin":"up","E":-0.32,"DOS":0.3},{"orb":"O 2p","spin":"up","E":-0.18,"DOS":0.8},{"orb":"O 2p","spin":"up","E":0.0,"DOS":0},{"orb":"O 2p","spin":"up","E":0.19,"DOS":0.7},{"orb":"O 2p","spin":"up","E":0.41,"DOS":1.95},{"orb":"O 2p","spin":"up","E":0.63,"DOS":1.55},{"orb":"O 2p","spin":"up","E":0.85,"DOS":0.9},{"orb":"O 2p","spin":"up","E":1.03,"DOS":1.2},{"orb":"O 2p","spin":"up","E":1.18,"DOS":0.05},{"orb":"O 2p","spin":"up","E":1.29,"DOS":2.7},{"orb":"O 2p","spin":"up","E":1.35,"DOS":0},
{"orb":"O 2p","spin":"dn","E":-7.5,"DOS":0},{"orb":"O 2p","spin":"dn","E":-7.21,"DOS":-0.35},{"orb":"O 2p","spin":"dn","E":-6.92,"DOS":-0.55},{"orb":"O 2p","spin":"dn","E":-6.7,"DOS":-1.1},{"orb":"O 2p","spin":"dn","E":-6.4,"DOS":-1.6},{"orb":"O 2p","spin":"dn","E":-6.11,"DOS":-1.7},{"orb":"O 2p","spin":"dn","E":-5.89,"DOS":-2.25},{"orb":"O 2p","spin":"dn","E":-5.82,"DOS":-2.65},{"orb":"O 2p","spin":"dn","E":-5.67,"DOS":-2.25},{"orb":"O 2p","spin":"dn","E":-5.45,"DOS":-1.7},{"orb":"O 2p","spin":"dn","E":-5.16,"DOS":-1.6},{"orb":"O 2p","spin":"dn","E":-4.94,"DOS":-1.9},{"orb":"O 2p","spin":"dn","E":-4.65,"DOS":-1.5},{"orb":"O 2p","spin":"dn","E":-4.35,"DOS":-1.7},{"orb":"O 2p","spin":"dn","E":-4.06,"DOS":-1.3},{"orb":"O 2p","spin":"dn","E":-3.84,"DOS":-2.05},{"orb":"O 2p","spin":"dn","E":-3.62,"DOS":-1.5},{"orb":"O 2p","spin":"dn","E":-3.33,"DOS":-1.75},{"orb":"O 2p","spin":"dn","E":-3.11,"DOS":-2.05},{"orb":"O 2p","spin":"dn","E":-2.89,"DOS":-0.9},{"orb":"O 2p","spin":"dn","E":-2.74,"DOS":-1.1},{"orb":"O 2p","spin":"dn","E":-2.45,"DOS":-1.7},{"orb":"O 2p","spin":"dn","E":-2.15,"DOS":-1.1},{"orb":"O 2p","spin":"dn","E":-1.79,"DOS":-0.85},{"orb":"O 2p","spin":"dn","E":-1.42,"DOS":-0.9},{"orb":"O 2p","spin":"dn","E":-1.13,"DOS":-0.6},{"orb":"O 2p","spin":"dn","E":-0.95,"DOS":-0.35},{"orb":"O 2p","spin":"dn","E":-0.62,"DOS":-0.35},{"orb":"O 2p","spin":"dn","E":-0.47,"DOS":0},{"orb":"O 2p","spin":"dn","E":-0.4,"DOS":-1.3},{"orb":"O 2p","spin":"dn","E":-0.32,"DOS":-0.35},{"orb":"O 2p","spin":"dn","E":0.0,"DOS":0},{"orb":"O 2p","spin":"dn","E":0.19,"DOS":-0.35},{"orb":"O 2p","spin":"dn","E":0.41,"DOS":-0.85},{"orb":"O 2p","spin":"dn","E":0.63,"DOS":-1.4},{"orb":"O 2p","spin":"dn","E":0.85,"DOS":-1.1},{"orb":"O 2p","spin":"dn","E":1.07,"DOS":-1.6},{"orb":"O 2p","spin":"dn","E":1.22,"DOS":-0.9},{"orb":"O 2p","spin":"dn","E":1.36,"DOS":-1.9},{"orb":"O 2p","spin":"dn","E":1.44,"DOS":0},
{"orb":"Mn 3d","spin":"up","E":-7.5,"DOS":0},{"orb":"Mn 3d","spin":"up","E":-7.14,"DOS":0.15},{"orb":"Mn 3d","spin":"up","E":-6.4,"DOS":0.3},{"orb":"Mn 3d","spin":"up","E":-5.67,"DOS":0.4},{"orb":"Mn 3d","spin":"up","E":-4.94,"DOS":0.45},{"orb":"Mn 3d","spin":"up","E":-4.21,"DOS":0.42},{"orb":"Mn 3d","spin":"up","E":-3.47,"DOS":0.3},{"orb":"Mn 3d","spin":"up","E":-2.74,"DOS":0.23},{"orb":"Mn 3d","spin":"up","E":-2.0,"DOS":0.3},{"orb":"Mn 3d","spin":"up","E":-1.27,"DOS":0.42},{"orb":"Mn 3d","spin":"up","E":-0.98,"DOS":0.15},{"orb":"Mn 3d","spin":"up","E":-0.84,"DOS":1.2},{"orb":"Mn 3d","spin":"up","E":-0.73,"DOS":2.9},{"orb":"Mn 3d","spin":"up","E":-0.58,"DOS":0.4},{"orb":"Mn 3d","spin":"up","E":-0.47,"DOS":0.23},{"orb":"Mn 3d","spin":"up","E":-0.36,"DOS":3.5},{"orb":"Mn 3d","spin":"up","E":-0.21,"DOS":2.9},{"orb":"Mn 3d","spin":"up","E":-0.1,"DOS":0.6},{"orb":"Mn 3d","spin":"up","E":0.0,"DOS":0},{"orb":"Mn 3d","spin":"up","E":0.19,"DOS":0.42},{"orb":"Mn 3d","spin":"up","E":0.41,"DOS":1.85},{"orb":"Mn 3d","spin":"up","E":0.56,"DOS":1.4},{"orb":"Mn 3d","spin":"up","E":0.67,"DOS":1.75},{"orb":"Mn 3d","spin":"up","E":0.85,"DOS":0.4},{"orb":"Mn 3d","spin":"up","E":1.03,"DOS":1.55},{"orb":"Mn 3d","spin":"up","E":1.18,"DOS":0.23},{"orb":"Mn 3d","spin":"up","E":1.28,"DOS":6.45},{"orb":"Mn 3d","spin":"up","E":1.35,"DOS":0},
{"orb":"Mn 3d","spin":"dn","E":-7.5,"DOS":0},{"orb":"Mn 3d","spin":"dn","E":-7.14,"DOS":-0.15},{"orb":"Mn 3d","spin":"dn","E":-6.4,"DOS":-0.27},{"orb":"Mn 3d","spin":"dn","E":-5.67,"DOS":-0.35},{"orb":"Mn 3d","spin":"dn","E":-4.94,"DOS":-0.55},{"orb":"Mn 3d","spin":"dn","E":-4.21,"DOS":-0.35},{"orb":"Mn 3d","spin":"dn","E":-3.47,"DOS":-0.27},{"orb":"Mn 3d","spin":"dn","E":-2.74,"DOS":-0.27},{"orb":"Mn 3d","spin":"dn","E":-2.0,"DOS":-0.27},{"orb":"Mn 3d","spin":"dn","E":-1.27,"DOS":-0.35},{"orb":"Mn 3d","spin":"dn","E":-0.98,"DOS":-0.35},{"orb":"Mn 3d","spin":"dn","E":-0.84,"DOS":0},{"orb":"Mn 3d","spin":"dn","E":-0.62,"DOS":-0.15},{"orb":"Mn 3d","spin":"dn","E":-0.47,"DOS":-0.9},{"orb":"Mn 3d","spin":"dn","E":-0.4,"DOS":-8.2},{"orb":"Mn 3d","spin":"dn","E":-0.35,"DOS":-0.55},{"orb":"Mn 3d","spin":"dn","E":-0.29,"DOS":-8.1},{"orb":"Mn 3d","spin":"dn","E":-0.22,"DOS":-0.55},{"orb":"Mn 3d","spin":"dn","E":0.0,"DOS":-0.15},{"orb":"Mn 3d","spin":"dn","E":0.15,"DOS":-1.9},{"orb":"Mn 3d","spin":"dn","E":0.26,"DOS":-0.9},{"orb":"Mn 3d","spin":"dn","E":0.41,"DOS":-0.85},{"orb":"Mn 3d","spin":"dn","E":0.63,"DOS":-0.9},{"orb":"Mn 3d","spin":"dn","E":0.85,"DOS":-1.1},{"orb":"Mn 3d","spin":"dn","E":1.04,"DOS":-1.9},{"orb":"Mn 3d","spin":"dn","E":1.22,"DOS":-0.9},{"orb":"Mn 3d","spin":"dn","E":1.35,"DOS":-3.6},{"orb":"Mn 3d","spin":"dn","E":1.44,"DOS":0}
]
},
"spacing":13.5,
"resolve":{"scale":{"color":"independent"},"legend":{"color":"independent"}},
"vconcat":[
{"bounds":"flush","spacing":28,"resolve":{"scale":{"color":"independent"},"legend":{"color":"independent"}},"vconcat":[
{"width":546,"height":174,"layer":[
{"data":{"name":"a1"},"mark":{"type":"line","clip":true,"strokeWidth":1.2},"encoding":{
"x":{"field":"E","type":"quantitative","scale":{"domain":[-10,2],"nice":false,"zero":false},"axis":{"values":[-10,-9,-8,-7,-6,-5,-4,-3,-2,-1,0,1,2],"labels":false,"title":null}},
"y":{"field":"DOS","type":"quantitative","scale":{"domain":[-10,10],"nice":false},"axis":{"values":[-10,-7.5,-5,-2.5,0,2.5,5,7.5,10],"labelExpr":"datum.value % 5 === 0 ? datum.label : ''","labelPadding":10,"title":"DOS (eV⁻¹)","titlePadding":5}},
"color":{"field":"orb","type":"nominal","scale":{"domain":["O 2p","Ni 3d"],"range":["#0000ff","#ff0000"]},"legend":{}},
"detail":{"field":"spin"}}},
{"data":{"values":[{}]},"mark":{"type":"rule","color":"black","strokeWidth":1.2},"encoding":{"y":{"datum":0}}},
{"data":{"values":[{}]},"mark":{"type":"rule","color":"black","strokeWidth":1,"strokeDash":[4,3]},"encoding":{"x":{"datum":0}}},
{"data":{"values":[{"label":"Ni@Octa., Before oxygen release"}]},"mark":{"type":"text","align":"left","baseline":"alphabetic","fontSize":22},"encoding":{"x":{"datum":-9.74},"y":{"datum":7.12},"text":{"field":"label"}}},
{"data":{"values":[{"label":"(a)"}]},"mark":{"type":"text","align":"left","baseline":"alphabetic","fontSize":21},"encoding":{"x":{"datum":-11.63},"y":{"datum":9.27},"text":{"field":"label"}}}
]},
{"width":546,"height":174,"layer":[
{"data":{"name":"a2"},"mark":{"type":"line","clip":true,"strokeWidth":1.2},"encoding":{
"x":{"field":"E","type":"quantitative","scale":{"domain":[-10,2],"nice":false,"zero":false},"axis":{"values":[-10,-9,-8,-7,-6,-5,-4,-3,-2,-1,0,1,2],"labelExpr":"datum.value % 2 === 0 ? datum.label : ''","labelPadding":9,"title":null}},
"y":{"field":"DOS","type":"quantitative","scale":{"domain":[-10,10],"nice":false},"axis":{"values":[-10,-7.5,-5,-2.5,0,2.5,5,7.5,10],"labelExpr":"datum.value % 5 === 0 ? datum.label : ''","labelPadding":10,"title":"DOS (eV⁻¹)","titlePadding":5}},
"color":{"field":"orb","type":"nominal","scale":{"domain":["O 2p","Ni 3d"],"range":["#0000ff","#ff0000"]},"legend":null},
"detail":{"field":"spin"}}},
{"data":{"values":[{}]},"mark":{"type":"rule","color":"black","strokeWidth":1.2},"encoding":{"y":{"datum":0}}},
{"data":{"values":[{}]},"mark":{"type":"rule","color":"black","strokeWidth":1,"strokeDash":[4,3]},"encoding":{"x":{"datum":0}}},
{"data":{"values":[{"label":"Ni@Octa., After oxygen release"}]},"mark":{"type":"text","align":"left","baseline":"alphabetic","fontSize":22},"encoding":{"x":{"datum":-9.74},"y":{"datum":7.12},"text":{"field":"label"}}},
{"data":{"values":[{"label":"E - E"}]},"mark":{"type":"text","align":"right","baseline":"alphabetic","fontSize":22},"encoding":{"x":{"datum":-4.03},"y":{"datum":-16.2},"text":{"field":"label"}}},
{"data":{"values":[{"label":"f"}]},"mark":{"type":"text","align":"left","baseline":"alphabetic","fontSize":15},"encoding":{"x":{"datum":-4.02},"y":{"datum":-16.75},"text":{"field":"label"}}},
{"data":{"values":[{"label":"(eV)"}]},"mark":{"type":"text","align":"left","baseline":"alphabetic","fontSize":22},"encoding":{"x":{"datum":-3.81},"y":{"datum":-16.2},"text":{"field":"label"}}}
]}
]},
{"bounds":"flush","spacing":28,"resolve":{"scale":{"color":"independent"},"legend":{"color":"independent"}},"vconcat":[
{"width":546,"height":174,"layer":[
{"data":{"name":"b1"},"mark":{"type":"line","clip":true,"strokeWidth":1.2},"encoding":{
"x":{"field":"E","type":"quantitative","scale":{"domain":[-10,2],"nice":false,"zero":false},"axis":{"values":[-10,-9,-8,-7,-6,-5,-4,-3,-2,-1,0,1,2],"labels":false,"title":null}},
"y":{"field":"DOS","type":"quantitative","scale":{"domain":[-10,10],"nice":false},"axis":{"values":[-10,-7.5,-5,-2.5,0,2.5,5,7.5,10],"labelExpr":"datum.value % 5 === 0 ? datum.label : ''","labelPadding":10,"title":"DOS (eV⁻¹)","titlePadding":5}},
"color":{"field":"orb","type":"nominal","scale":{"domain":["O 2p","Co 3d"],"range":["#0000ff","#00ff00"]},"legend":{}},
"detail":{"field":"spin"}}},
{"data":{"values":[{}]},"mark":{"type":"rule","color":"black","strokeWidth":1.2},"encoding":{"y":{"datum":0}}},
{"data":{"values":[{}]},"mark":{"type":"rule","color":"black","strokeWidth":1,"strokeDash":[4,3]},"encoding":{"x":{"datum":0}}},
{"data":{"values":[{"label":"Co@Octa., Before oxygen release"}]},"mark":{"type":"text","align":"left","baseline":"alphabetic","fontSize":22},"encoding":{"x":{"datum":-9.74},"y":{"datum":7.12},"text":{"field":"label"}}},
{"data":{"values":[{"label":"(b)"}]},"mark":{"type":"text","align":"left","baseline":"alphabetic","fontSize":21},"encoding":{"x":{"datum":-11.63},"y":{"datum":9.27},"text":{"field":"label"}}}
]},
{"width":546,"height":174,"layer":[
{"data":{"name":"b2"},"mark":{"type":"line","clip":true,"strokeWidth":1.2},"encoding":{
"x":{"field":"E","type":"quantitative","scale":{"domain":[-10,2],"nice":false,"zero":false},"axis":{"values":[-10,-9,-8,-7,-6,-5,-4,-3,-2,-1,0,1,2],"labelExpr":"datum.value % 2 === 0 ? datum.label : ''","labelPadding":9,"title":null}},
"y":{"field":"DOS","type":"quantitative","scale":{"domain":[-10,10],"nice":false},"axis":{"values":[-10,-7.5,-5,-2.5,0,2.5,5,7.5,10],"labelExpr":"datum.value % 5 === 0 ? datum.label : ''","labelPadding":10,"title":"DOS (eV⁻¹)","titlePadding":5}},
"color":{"field":"orb","type":"nominal","scale":{"domain":["O 2p","Co 3d"],"range":["#0000ff","#00ff00"]},"legend":null},
"detail":{"field":"spin"}}},
{"data":{"values":[{}]},"mark":{"type":"rule","color":"black","strokeWidth":1.2},"encoding":{"y":{"datum":0}}},
{"data":{"values":[{}]},"mark":{"type":"rule","color":"black","strokeWidth":1,"strokeDash":[4,3]},"encoding":{"x":{"datum":0}}},
{"data":{"values":[{"label":"Co@Octa., After oxygen release"}]},"mark":{"type":"text","align":"left","baseline":"alphabetic","fontSize":22},"encoding":{"x":{"datum":-9.74},"y":{"datum":7.12},"text":{"field":"label"}}},
{"data":{"values":[{"label":"E - E"}]},"mark":{"type":"text","align":"right","baseline":"alphabetic","fontSize":22},"encoding":{"x":{"datum":-4.03},"y":{"datum":-16.2},"text":{"field":"label"}}},
{"data":{"values":[{"label":"f"}]},"mark":{"type":"text","align":"left","baseline":"alphabetic","fontSize":15},"encoding":{"x":{"datum":-4.02},"y":{"datum":-16.75},"text":{"field":"label"}}},
{"data":{"values":[{"label":"(eV)"}]},"mark":{"type":"text","align":"left","baseline":"alphabetic","fontSize":22},"encoding":{"x":{"datum":-3.81},"y":{"datum":-16.2},"text":{"field":"label"}}}
]}
]},
{"bounds":"flush","spacing":28,"resolve":{"scale":{"color":"independent"},"legend":{"color":"independent"}},"vconcat":[
{"width":546,"height":174,"layer":[
{"data":{"name":"c1"},"mark":{"type":"line","clip":true,"strokeWidth":1.2},"encoding":{
"x":{"field":"E","type":"quantitative","scale":{"domain":[-10,2],"nice":false,"zero":false},"axis":{"values":[-10,-9,-8,-7,-6,-5,-4,-3,-2,-1,0,1,2],"labels":false,"title":null}},
"y":{"field":"DOS","type":"quantitative","scale":{"domain":[-10,10],"nice":false},"axis":{"values":[-10,-7.5,-5,-2.5,0,2.5,5,7.5,10],"labelExpr":"datum.value % 5 === 0 ? datum.label : ''","labelPadding":10,"title":"DOS (eV⁻¹)","titlePadding":5}},
"color":{"field":"orb","type":"nominal","scale":{"domain":["O 2p","Mn 3d"],"range":["#0000ff","#ffc000"]},"legend":{}},
"detail":{"field":"spin"}}},
{"data":{"values":[{}]},"mark":{"type":"rule","color":"black","strokeWidth":1.2},"encoding":{"y":{"datum":0}}},
{"data":{"values":[{}]},"mark":{"type":"rule","color":"black","strokeWidth":1,"strokeDash":[4,3]},"encoding":{"x":{"datum":0}}},
{"data":{"values":[{"label":"Mn@Octa., Before oxygen release"}]},"mark":{"type":"text","align":"left","baseline":"alphabetic","fontSize":22},"encoding":{"x":{"datum":-9.74},"y":{"datum":7.12},"text":{"field":"label"}}},
{"data":{"values":[{"label":"(c)"}]},"mark":{"type":"text","align":"left","baseline":"alphabetic","fontSize":21},"encoding":{"x":{"datum":-11.63},"y":{"datum":9.27},"text":{"field":"label"}}}
]},
{"width":546,"height":174,"layer":[
{"data":{"name":"c2"},"mark":{"type":"line","clip":true,"strokeWidth":1.2},"encoding":{
"x":{"field":"E","type":"quantitative","scale":{"domain":[-10,2],"nice":false,"zero":false},"axis":{"values":[-10,-9,-8,-7,-6,-5,-4,-3,-2,-1,0,1,2],"labelExpr":"datum.value % 2 === 0 ? datum.label : ''","labelPadding":9,"title":null}},
"y":{"field":"DOS","type":"quantitative","scale":{"domain":[-10,10],"nice":false},"axis":{"values":[-10,-7.5,-5,-2.5,0,2.5,5,7.5,10],"labelExpr":"datum.value % 5 === 0 ? datum.label : ''","labelPadding":10,"title":"DOS (eV⁻¹)","titlePadding":5}},
"color":{"field":"orb","type":"nominal","scale":{"domain":["O 2p","Mn 3d"],"range":["#0000ff","#ffc000"]},"legend":null},
"detail":{"field":"spin"}}},
{"data":{"values":[{}]},"mark":{"type":"rule","color":"black","strokeWidth":1.2},"encoding":{"y":{"datum":0}}},
{"data":{"values":[{}]},"mark":{"type":"rule","color":"black","strokeWidth":1,"strokeDash":[4,3]},"encoding":{"x":{"datum":0}}},
{"data":{"values":[{"label":"Mn@Octa., After oxygen release"}]},"mark":{"type":"text","align":"left","baseline":"alphabetic","fontSize":22},"encoding":{"x":{"datum":-9.74},"y":{"datum":7.12},"text":{"field":"label"}}},
{"data":{"values":[{"label":"E - E"}]},"mark":{"type":"text","align":"right","baseline":"alphabetic","fontSize":22},"encoding":{"x":{"datum":-4.03},"y":{"datum":-16.2},"text":{"field":"label"}}},
{"data":{"values":[{"label":"f"}]},"mark":{"type":"text","align":"left","baseline":"alphabetic","fontSize":15},"encoding":{"x":{"datum":-4.02},"y":{"datum":-16.75},"text":{"field":"label"}}},
{"data":{"values":[{"label":"(eV)"}]},"mark":{"type":"text","align":"left","baseline":"alphabetic","fontSize":22},"encoding":{"x":{"datum":-3.81},"y":{"datum":-16.2},"text":{"field":"label"}}}
]}
]}
]
}
